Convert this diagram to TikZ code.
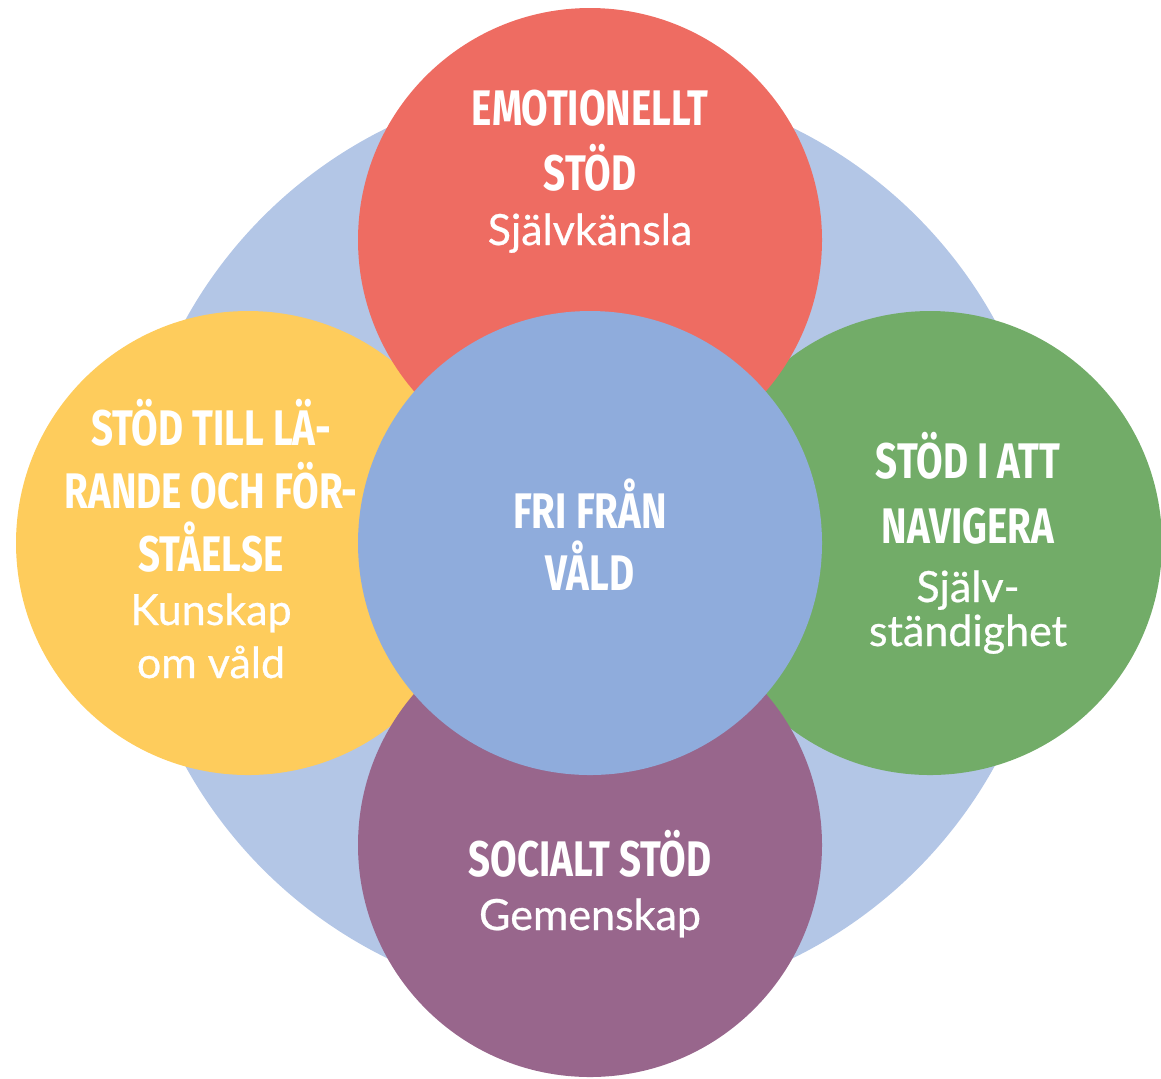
\documentclass[tikz,border=0pt]{standalone}
\usepackage{fontspec}
\newfontfamily\headfont[FakeStretch=0.77]{Fira Sans}
\newfontfamily\subfont[FakeBold=0.6]{Lato}
\definecolor{bigblue}{HTML}{B3C6E6}
\definecolor{midblue}{HTML}{8FACDC}
\definecolor{cred}{HTML}{EE6C62}
\definecolor{cyellow}{HTML}{FECC5C}
\definecolor{cgreen}{HTML}{72AC68}
\definecolor{cpurple}{HTML}{98668C}
\tikzset{
  disc/.style={circle, inner sep=0pt, minimum size=232pt, draw=none},
  head/.style={anchor=base, text=white, inner sep=0pt, font=\headfont\bfseries\fontsize{25}{25}\selectfont},
  sub/.style={anchor=base, text=white, inner sep=0pt, font=\subfont\fontsize{21.5}{21.5}\selectfont}
}
\begin{document}
\begin{tikzpicture}[x=0.5pt,y=-0.5pt]
\useasboundingbox (0,0) rectangle (1161,1078);
\node[disc, fill=bigblue, minimum size=462pt] (big) at (590,543) {};
\node[disc, fill=cyellow] (learn) at (248,543) {};
\node[disc, fill=cgreen] (nav) at (930,543) {};
\node[disc, fill=cred] (emo) at (590,240) {};
\node[disc, fill=cpurple] (soc) at (590,845) {};
\node[disc, fill=midblue] (free) at (590,543) {};
% top
\node[head] (e1) at (590,125) {EMOTIONELLT};
\node[head] (e2) at (590,190) {STÖD};
\node[sub] (e3) at (590,245) {Självkänsla};
% left
\node[head] (l1) at (211,445) {STÖD TILL LÄ-};
\node[head] (l2) at (211,508) {RANDE OCH FÖR-};
\node[head] (l3) at (211,571) {STÅELSE};
\node[sub] (l4) at (211,625) {Kunskap};
\node[sub] (l5) at (211,678) {om våld};
% right
\node[head] (r1) at (968,478) {STÖD I ATT};
\node[head] (r2) at (968,543) {NAVIGERA};
\node[sub] (r3) at (968,602) {Själv-};
\node[sub] (r4) at (968,646) {ständighet};
% center
\node[head] (c1) at (590,528) {FRI FRÅN};
\node[head] (c2) at (590,590) {VÅLD};
% bottom
\node[head] (s1) at (590,876) {SOCIALT STÖD};
\node[sub] (s2) at (590,930) {Gemenskap};
\end{tikzpicture}
\end{document}
